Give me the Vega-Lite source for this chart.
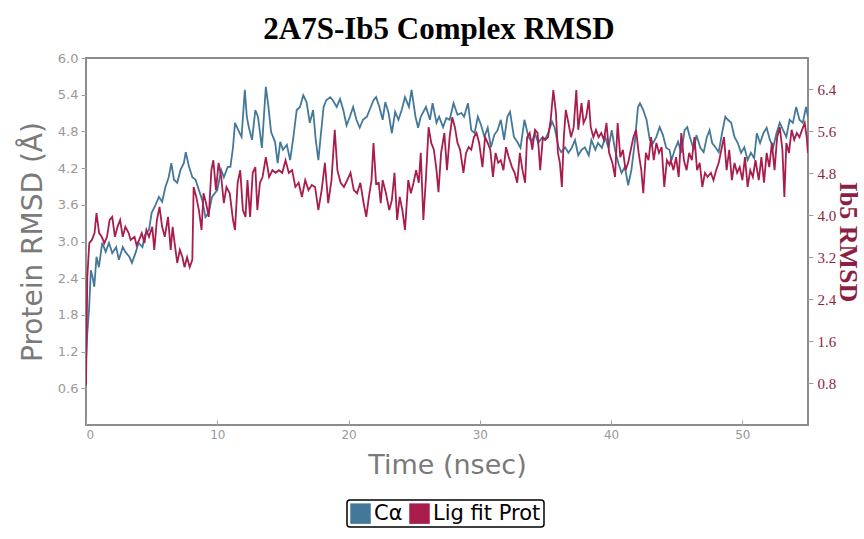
{
  "$schema": "https://vega.github.io/schema/vega-lite/v6.json",
  "autosize": {"type": "none"},
  "padding": {"left": 86, "top": 58, "right": 56, "bottom": 114},
  "width": 722,
  "height": 367,
  "background": "white",
  "title": {"text": "2A7S-Ib5 Complex RMSD", "font": "Liberation Serif", "fontSize": 31, "fontWeight": "bold", "color": "black", "anchor": "middle", "frame": "group", "offset": 6, "dx": -8},
  "config": {
    "view": {"stroke": "#8c8c8c", "strokeWidth": 2},
    "axis": {"grid": false, "domain": false, "tickColor": "#a0a0a0", "tickWidth": 1, "tickSize": 5}
  },
  "datasets": {
    "ca": [
      {"t":0,"v":1.06},{"t":0.1,"v":1.5},{"t":0.23,"v":1.88},{"t":0.37,"v":2.53},{"t":0.5,"v":2.42},{"t":0.63,"v":2.26},{"t":0.8,"v":2.75},{"t":0.98,"v":2.58},{"t":1.24,"v":2.98},{"t":1.5,"v":2.83},{"t":1.75,"v":2.98},{"t":2.0,"v":2.81},{"t":2.3,"v":2.91},{"t":2.5,"v":2.7},{"t":2.8,"v":2.91},{"t":3.0,"v":2.83},{"t":3.3,"v":2.75},{"t":3.5,"v":2.65},{"t":3.8,"v":2.83},{"t":4.0,"v":2.98},{"t":4.3,"v":2.91},{"t":4.5,"v":3.11},{"t":4.8,"v":3.19},{"t":5.0,"v":3.47},{"t":5.3,"v":3.6},{"t":5.55,"v":3.73},{"t":5.8,"v":3.65},{"t":6.05,"v":3.89},{"t":6.3,"v":4.05},{"t":6.5,"v":4.28},{"t":6.7,"v":4.01},{"t":6.95,"v":3.96},{"t":7.2,"v":4.17},{"t":7.45,"v":4.28},{"t":7.6,"v":4.46},{"t":7.85,"v":4.22},{"t":8.1,"v":4.05},{"t":8.35,"v":4.01},{"t":8.6,"v":3.84},{"t":8.85,"v":3.68},{"t":9.1,"v":3.4},{"t":9.35,"v":3.47},{"t":9.6,"v":3.73},{"t":10.0,"v":3.84},{"t":10.3,"v":4.17},{"t":10.5,"v":4.05},{"t":10.8,"v":4.22},{"t":11.0,"v":4.22},{"t":11.2,"v":4.54},{"t":11.35,"v":4.94},{"t":11.6,"v":4.82},{"t":11.85,"v":4.71},{"t":12.1,"v":5.48},{"t":12.25,"v":5.04},{"t":12.4,"v":4.87},{"t":12.65,"v":4.66},{"t":12.9,"v":5.15},{"t":13.1,"v":5.04},{"t":13.4,"v":4.53},{"t":13.5,"v":4.87},{"t":13.7,"v":5.53},{"t":13.9,"v":5.2},{"t":14.1,"v":4.79},{"t":14.4,"v":4.63},{"t":14.6,"v":4.28},{"t":14.8,"v":4.63},{"t":15.0,"v":4.5},{"t":15.3,"v":4.58},{"t":15.55,"v":4.33},{"t":15.8,"v":4.71},{"t":16.05,"v":5.15},{"t":16.3,"v":5.2},{"t":16.55,"v":5.39},{"t":16.8,"v":5.28},{"t":17.05,"v":4.94},{"t":17.3,"v":5.15},{"t":17.5,"v":4.66},{"t":17.7,"v":4.33},{"t":17.9,"v":4.77},{"t":18.1,"v":5.2},{"t":18.3,"v":5.31},{"t":18.6,"v":5.36},{"t":18.8,"v":5.31},{"t":19.1,"v":5.2},{"t":19.35,"v":5.33},{"t":19.6,"v":5.15},{"t":19.85,"v":4.9},{"t":20.1,"v":5.04},{"t":20.35,"v":5.2},{"t":20.6,"v":4.99},{"t":20.85,"v":4.86},{"t":21.1,"v":4.99},{"t":21.4,"v":5.04},{"t":21.6,"v":5.15},{"t":21.9,"v":5.31},{"t":22.1,"v":5.36},{"t":22.35,"v":5.2},{"t":22.6,"v":4.99},{"t":22.8,"v":5.28},{"t":23.05,"v":5.1},{"t":23.3,"v":4.77},{"t":23.55,"v":5.12},{"t":23.8,"v":4.99},{"t":24.05,"v":5.15},{"t":24.3,"v":5.36},{"t":24.6,"v":5.2},{"t":24.8,"v":5.48},{"t":25.1,"v":5.04},{"t":25.3,"v":4.86},{"t":25.5,"v":5.04},{"t":25.9,"v":5.2},{"t":26.2,"v":4.99},{"t":26.4,"v":5.26},{"t":26.7,"v":4.94},{"t":26.9,"v":5.04},{"t":27.2,"v":4.87},{"t":27.45,"v":5.02},{"t":27.7,"v":4.99},{"t":28.0,"v":5.26},{"t":28.3,"v":5.07},{"t":28.6,"v":5.1},{"t":28.8,"v":5.04},{"t":29.1,"v":5.26},{"t":29.35,"v":4.82},{"t":29.6,"v":4.77},{"t":29.85,"v":5.04},{"t":30.1,"v":4.9},{"t":30.35,"v":4.71},{"t":30.6,"v":4.86},{"t":30.85,"v":4.54},{"t":31.1,"v":4.74},{"t":31.35,"v":4.82},{"t":31.6,"v":4.99},{"t":31.85,"v":4.66},{"t":32.1,"v":5.04},{"t":32.3,"v":5.12},{"t":32.6,"v":4.71},{"t":32.85,"v":4.63},{"t":33.1,"v":4.53},{"t":33.4,"v":4.99},{"t":33.7,"v":4.71},{"t":33.95,"v":4.63},{"t":34.2,"v":4.77},{"t":34.45,"v":4.61},{"t":34.7,"v":4.69},{"t":34.95,"v":4.66},{"t":35.2,"v":4.77},{"t":35.5,"v":4.96},{"t":35.7,"v":4.86},{"t":36.0,"v":4.54},{"t":36.2,"v":4.46},{"t":36.5,"v":4.54},{"t":36.75,"v":4.45},{"t":37.0,"v":4.53},{"t":37.25,"v":4.66},{"t":37.5,"v":4.41},{"t":37.75,"v":4.5},{"t":38.0,"v":4.54},{"t":38.3,"v":4.41},{"t":38.5,"v":4.66},{"t":38.8,"v":4.5},{"t":39.0,"v":4.61},{"t":39.3,"v":4.53},{"t":39.55,"v":4.71},{"t":39.8,"v":4.53},{"t":40.05,"v":4.82},{"t":40.3,"v":4.5},{"t":40.55,"v":4.28},{"t":40.8,"v":4.12},{"t":41.05,"v":4.22},{"t":41.3,"v":3.92},{"t":41.55,"v":4.17},{"t":41.8,"v":4.61},{"t":42.05,"v":5.2},{"t":42.2,"v":5.26},{"t":42.45,"v":5.15},{"t":42.7,"v":4.99},{"t":42.95,"v":4.66},{"t":43.2,"v":4.61},{"t":43.45,"v":4.71},{"t":43.7,"v":4.87},{"t":43.95,"v":4.74},{"t":44.2,"v":4.53},{"t":44.45,"v":4.5},{"t":44.6,"v":4.33},{"t":44.85,"v":4.5},{"t":45.1,"v":4.63},{"t":45.35,"v":4.45},{"t":45.6,"v":4.82},{"t":45.8,"v":4.87},{"t":46.0,"v":4.71},{"t":46.3,"v":4.5},{"t":46.5,"v":4.74},{"t":46.8,"v":4.53},{"t":47.05,"v":4.46},{"t":47.3,"v":4.71},{"t":47.5,"v":4.82},{"t":47.7,"v":4.61},{"t":47.95,"v":4.54},{"t":48.2,"v":4.46},{"t":48.45,"v":4.77},{"t":48.7,"v":5.04},{"t":48.9,"v":4.99},{"t":49.15,"v":4.94},{"t":49.4,"v":4.71},{"t":49.65,"v":4.61},{"t":49.9,"v":4.45},{"t":50.15,"v":4.54},{"t":50.4,"v":4.33},{"t":50.65,"v":4.45},{"t":50.9,"v":4.36},{"t":51.1,"v":4.77},{"t":51.35,"v":4.61},{"t":51.6,"v":4.77},{"t":51.85,"v":4.86},{"t":52.1,"v":4.66},{"t":52.35,"v":4.54},{"t":52.6,"v":4.77},{"t":52.85,"v":4.94},{"t":53.1,"v":4.82},{"t":53.35,"v":4.71},{"t":53.6,"v":4.99},{"t":53.85,"v":4.94},{"t":54.1,"v":5.2},{"t":54.35,"v":4.99},{"t":54.6,"v":4.94},{"t":54.85,"v":5.2},{"t":55.0,"v":5.04}
    ],
    "lig": [
      {"t":0,"v":0.76},{"t":0.1,"v":2.82},{"t":0.25,"v":3.47},{"t":0.45,"v":3.53},{"t":0.65,"v":3.66},{"t":0.8,"v":4.04},{"t":1.0,"v":3.66},{"t":1.2,"v":3.59},{"t":1.4,"v":3.47},{"t":1.6,"v":3.59},{"t":1.8,"v":3.91},{"t":2.0,"v":3.97},{"t":2.2,"v":3.59},{"t":2.4,"v":3.78},{"t":2.6,"v":3.91},{"t":2.8,"v":3.59},{"t":3.0,"v":3.78},{"t":3.25,"v":3.66},{"t":3.4,"v":3.53},{"t":3.7,"v":3.59},{"t":3.85,"v":3.43},{"t":4.05,"v":3.53},{"t":4.25,"v":3.66},{"t":4.45,"v":3.47},{"t":4.6,"v":3.72},{"t":4.8,"v":3.59},{"t":5.05,"v":3.78},{"t":5.2,"v":3.34},{"t":5.4,"v":3.91},{"t":5.6,"v":4.16},{"t":5.8,"v":3.78},{"t":6.0,"v":3.59},{"t":6.25,"v":3.97},{"t":6.45,"v":3.34},{"t":6.6,"v":3.78},{"t":6.75,"v":3.47},{"t":6.95,"v":3.09},{"t":7.15,"v":3.34},{"t":7.35,"v":3.2},{"t":7.5,"v":3.01},{"t":7.7,"v":3.2},{"t":7.9,"v":3.01},{"t":8.1,"v":3.15},{"t":8.2,"v":4.54},{"t":8.4,"v":4.35},{"t":8.6,"v":4.1},{"t":8.8,"v":3.72},{"t":8.95,"v":4.42},{"t":9.15,"v":4.23},{"t":9.35,"v":3.97},{"t":9.55,"v":4.86},{"t":9.7,"v":5.05},{"t":9.9,"v":4.48},{"t":10.1,"v":5.0},{"t":10.3,"v":4.73},{"t":10.5,"v":4.23},{"t":10.7,"v":4.54},{"t":10.95,"v":4.42},{"t":11.2,"v":3.91},{"t":11.35,"v":3.72},{"t":11.55,"v":4.62},{"t":11.75,"v":4.86},{"t":11.95,"v":4.1},{"t":12.15,"v":3.97},{"t":12.3,"v":4.67},{"t":12.5,"v":3.97},{"t":12.7,"v":4.81},{"t":12.9,"v":4.92},{"t":13.05,"v":4.1},{"t":13.25,"v":4.62},{"t":13.45,"v":4.73},{"t":13.7,"v":5.11},{"t":13.95,"v":4.73},{"t":14.2,"v":4.86},{"t":14.45,"v":4.81},{"t":14.7,"v":4.86},{"t":14.95,"v":4.81},{"t":15.2,"v":5.05},{"t":15.45,"v":4.81},{"t":15.7,"v":4.86},{"t":15.95,"v":4.54},{"t":16.2,"v":4.62},{"t":16.45,"v":4.35},{"t":16.7,"v":4.67},{"t":16.95,"v":4.48},{"t":17.2,"v":4.58},{"t":17.45,"v":4.54},{"t":17.7,"v":4.1},{"t":17.95,"v":4.48},{"t":18.2,"v":5.0},{"t":18.45,"v":4.23},{"t":18.7,"v":4.67},{"t":18.95,"v":5.63},{"t":19.15,"v":4.86},{"t":19.4,"v":4.62},{"t":19.65,"v":4.54},{"t":19.9,"v":4.67},{"t":20.15,"v":4.81},{"t":20.4,"v":4.48},{"t":20.65,"v":4.42},{"t":20.9,"v":4.62},{"t":21.15,"v":4.23},{"t":21.35,"v":3.97},{"t":21.55,"v":4.35},{"t":21.75,"v":4.67},{"t":21.9,"v":5.38},{"t":22.1,"v":4.6},{"t":22.3,"v":4.62},{"t":22.45,"v":4.23},{"t":22.6,"v":4.67},{"t":22.85,"v":4.42},{"t":23.1,"v":4.1},{"t":23.3,"v":4.29},{"t":23.5,"v":4.81},{"t":23.7,"v":3.91},{"t":23.9,"v":4.35},{"t":24.1,"v":4.1},{"t":24.3,"v":3.72},{"t":24.55,"v":4.67},{"t":24.75,"v":4.42},{"t":24.95,"v":4.62},{"t":25.15,"v":4.86},{"t":25.35,"v":4.62},{"t":25.5,"v":5.19},{"t":25.7,"v":3.91},{"t":25.9,"v":4.73},{"t":26.1,"v":5.68},{"t":26.3,"v":5.38},{"t":26.5,"v":5.25},{"t":26.7,"v":4.86},{"t":26.85,"v":4.44},{"t":27.05,"v":5.19},{"t":27.3,"v":5.57},{"t":27.5,"v":4.86},{"t":27.7,"v":5.49},{"t":27.9,"v":5.87},{"t":28.1,"v":5.68},{"t":28.3,"v":5.38},{"t":28.5,"v":5.25},{"t":28.75,"v":4.81},{"t":28.95,"v":5.19},{"t":29.15,"v":5.3},{"t":29.35,"v":5.25},{"t":29.55,"v":5.49},{"t":29.75,"v":5.57},{"t":29.95,"v":5.38},{"t":30.2,"v":4.92},{"t":30.4,"v":5.49},{"t":30.6,"v":5.38},{"t":30.8,"v":5.25},{"t":31.0,"v":4.73},{"t":31.2,"v":5.19},{"t":31.4,"v":5.0},{"t":31.6,"v":5.05},{"t":31.8,"v":4.86},{"t":32.0,"v":5.3},{"t":32.2,"v":5.11},{"t":32.45,"v":4.92},{"t":32.65,"v":4.81},{"t":32.85,"v":4.62},{"t":33.05,"v":5.19},{"t":33.25,"v":4.86},{"t":33.45,"v":4.62},{"t":33.6,"v":5.49},{"t":33.8,"v":5.57},{"t":34.0,"v":5.25},{"t":34.2,"v":5.63},{"t":34.4,"v":5.57},{"t":34.6,"v":4.86},{"t":34.8,"v":5.49},{"t":35.0,"v":5.44},{"t":35.2,"v":5.49},{"t":35.4,"v":5.82},{"t":35.6,"v":6.39},{"t":35.8,"v":5.95},{"t":35.95,"v":5.19},{"t":36.1,"v":5.0},{"t":36.25,"v":4.54},{"t":36.4,"v":5.49},{"t":36.55,"v":6.01},{"t":36.75,"v":5.76},{"t":36.95,"v":5.49},{"t":37.15,"v":5.68},{"t":37.35,"v":6.39},{"t":37.5,"v":5.63},{"t":37.75,"v":6.14},{"t":37.9,"v":5.76},{"t":38.1,"v":5.87},{"t":38.3,"v":6.2},{"t":38.45,"v":5.68},{"t":38.65,"v":5.49},{"t":38.85,"v":5.63},{"t":39.05,"v":5.49},{"t":39.25,"v":5.57},{"t":39.45,"v":5.44},{"t":39.65,"v":5.76},{"t":39.85,"v":5.19},{"t":40.1,"v":5.0},{"t":40.3,"v":4.73},{"t":40.5,"v":5.76},{"t":40.7,"v":5.11},{"t":40.9,"v":5.25},{"t":41.1,"v":4.86},{"t":41.3,"v":5.0},{"t":41.5,"v":5.25},{"t":41.7,"v":5.49},{"t":41.9,"v":5.63},{"t":42.1,"v":5.19},{"t":42.3,"v":4.86},{"t":42.45,"v":4.42},{"t":42.65,"v":5.19},{"t":42.85,"v":5.05},{"t":43.05,"v":5.49},{"t":43.25,"v":5.05},{"t":43.45,"v":5.38},{"t":43.65,"v":5.19},{"t":43.85,"v":5.3},{"t":44.05,"v":4.54},{"t":44.25,"v":5.05},{"t":44.45,"v":4.96},{"t":44.55,"v":5.05},{"t":44.75,"v":4.86},{"t":44.95,"v":5.11},{"t":45.15,"v":4.73},{"t":45.35,"v":5.57},{"t":45.55,"v":5.05},{"t":45.75,"v":4.86},{"t":45.95,"v":5.19},{"t":46.15,"v":5.05},{"t":46.35,"v":5.49},{"t":46.55,"v":4.86},{"t":46.75,"v":5.0},{"t":46.95,"v":4.54},{"t":47.15,"v":4.81},{"t":47.35,"v":4.73},{"t":47.6,"v":4.81},{"t":47.8,"v":4.67},{"t":48.0,"v":4.86},{"t":48.2,"v":5.0},{"t":48.4,"v":5.25},{"t":48.6,"v":5.49},{"t":48.8,"v":4.86},{"t":49.0,"v":5.25},{"t":49.2,"v":4.67},{"t":49.4,"v":5.0},{"t":49.6,"v":4.81},{"t":49.8,"v":4.92},{"t":50.0,"v":4.67},{"t":50.2,"v":5.11},{"t":50.4,"v":4.54},{"t":50.6,"v":4.86},{"t":50.8,"v":4.73},{"t":51.0,"v":5.05},{"t":51.25,"v":4.67},{"t":51.45,"v":5.11},{"t":51.65,"v":4.62},{"t":51.85,"v":5.19},{"t":52.05,"v":4.92},{"t":52.25,"v":5.38},{"t":52.45,"v":4.86},{"t":52.65,"v":5.49},{"t":52.85,"v":5.68},{"t":53.05,"v":5.25},{"t":53.2,"v":4.35},{"t":53.35,"v":5.38},{"t":53.55,"v":5.19},{"t":53.75,"v":5.63},{"t":53.95,"v":5.44},{"t":54.15,"v":5.57},{"t":54.35,"v":5.49},{"t":54.55,"v":5.63},{"t":54.75,"v":5.76},{"t":54.9,"v":5.49},{"t":55.0,"v":5.19}
    ]
  },
  "layer": [
    {
      "data": {"name": "ca"},
      "mark": {"type": "line", "strokeWidth": 1.8, "clip": true},
      "encoding": {
        "x": {"field": "t", "type": "quantitative", "scale": {"domain": [0, 55], "nice": false},
          "axis": {"values": [0, 10, 20, 30, 40, 50], "tickSize": -5, "labelPadding": 9, "labelFont": "DejaVu Sans", "labelFontSize": 12, "labelColor": "#999999", "title": "Time (nsec)", "titleFont": "DejaVu Sans", "titleFontSize": 27, "titleFontWeight": "normal", "titleColor": "#7a7a7a", "titlePadding": 5, "minExtent": 22, "maxExtent": 22}},
        "y": {"field": "v", "type": "quantitative", "scale": {"domain": [0, 6], "nice": false, "zero": false},
          "axis": {"orient": "left", "values": [0.6, 1.2, 1.8, 2.4, 3.0, 3.6, 4.2, 4.8, 5.4, 6.0], "format": ".1f", "labelPadding": 3, "labelFont": "DejaVu Sans", "labelFontSize": 13, "labelColor": "#999999", "title": "Protein RMSD (Å)", "titleFont": "DejaVu Sans", "titleFontSize": 28, "titleFontWeight": "normal", "titleColor": "#7a7a7a", "titlePadding": 9, "minExtent": 30, "maxExtent": 30}},
        "color": {"datum": "Cα", "type": "nominal",
          "scale": {"domain": ["Cα", "Lig fit Prot"], "range": ["#44789a", "#a81d4b"]},
          "legend": {"orient": "none", "legendX": 261, "legendY": 442, "direction": "horizontal", "title": null, "symbolType": "square", "symbolSize": 420, "labelFont": "DejaVu Sans", "labelFontSize": 21, "labelColor": "black", "labelOffset": 3, "columnPadding": 6, "strokeColor": "black", "fillColor": "white", "padding": 3, "cornerRadius": 3,
            "encode": {
              "symbols": {"update": {"fill": {"scale": "color", "field": "value"}, "fillOpacity": {"value": 1}, "stroke": {"value": "transparent"}, "strokeWidth": {"value": 0}}},
              "legend": {"update": {"strokeWidth": {"value": 1.5}}}
            }}}
      }
    },
    {
      "data": {"name": "lig"},
      "mark": {"type": "line", "strokeWidth": 1.8, "clip": true},
      "encoding": {
        "x": {"field": "t", "type": "quantitative"},
        "y": {"field": "v", "type": "quantitative", "scale": {"domain": [0, 7], "nice": false, "zero": false},
          "axis": {"orient": "right", "values": [0.8, 1.6, 2.4, 3.2, 4.0, 4.8, 5.6, 6.4], "format": ".1f", "labelPadding": 4, "labelFont": "Liberation Serif", "labelFontSize": 15, "labelColor": "#8c1f45", "title": "Ib5 RMSD", "titleFont": "Liberation Serif", "titleFontSize": 26, "titleFontWeight": "bold", "titleColor": "#8c1f45", "titlePadding": 0, "minExtent": 26, "maxExtent": 26}},
        "color": {"datum": "Lig fit Prot", "type": "nominal"}
      }
    }
  ],
  "resolve": {"scale": {"y": "independent"}}
}
